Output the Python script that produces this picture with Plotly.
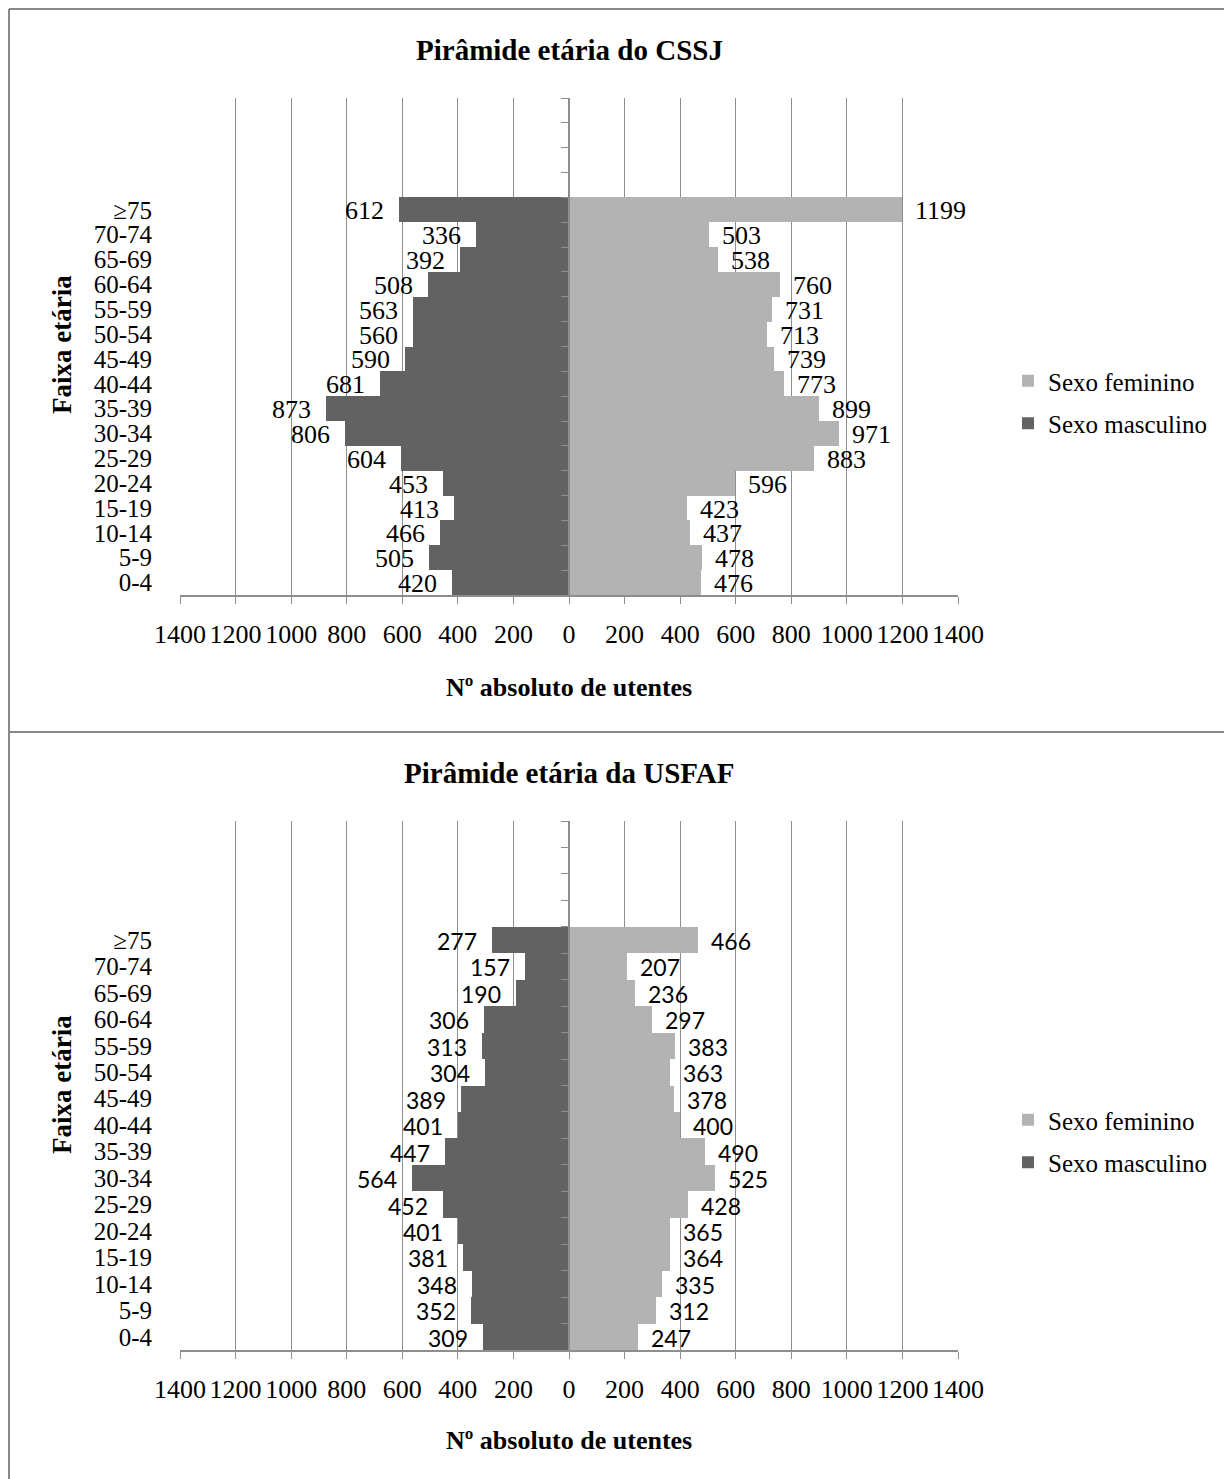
import plotly.graph_objects as go

age_groups = ["0-4", "5-9", "10-14", "15-19", "20-24", "25-29", "30-34", "35-39",
              "40-44", "45-49", "50-54", "55-59", "60-64", "65-69", "70-74", "≥75"]

cssj_male = [420, 505, 466, 413, 453, 604, 806, 873, 681, 590, 560, 563, 508, 392, 336, 612]
cssj_female = [476, 478, 437, 423, 596, 883, 971, 899, 773, 739, 713, 731, 760, 538, 503, 1199]

usfaf_male = [309, 352, 348, 381, 401, 452, 564, 447, 401, 389, 304, 313, 306, 190, 157, 277]
usfaf_female = [247, 312, 335, 364, 365, 428, 525, 490, 400, 378, 363, 383, 297, 236, 207, 466]

x_ticks = list(range(-1400, 1401, 200))
titles = ["Pirâmide etária do CSSJ", "Pirâmide etária da USFAF"]

W, H = 1232, 1479
OFF = 8  # page body margin
SERIF = "Liberation Serif, Times New Roman, serif"
SANS = "Lato, Open Sans, sans-serif"
MALE_C = "#626262"
FEM_C = "#b3b3b3"
GRID_C = "#8e8e8e"
FS = 25


def px(v):
    return (v - OFF) / W


def py(v):
    return 1 - (v - OFF) / H


x_dom = [px(180), px(958)]
x_mid = (x_dom[0] + x_dom[1]) / 2
panels = [
    dict(top=98, bot=595, title_y=50, xtitle_y=687, ytitle_y=345, legend_y=358,
         male=cssj_male, female=cssj_female, label_font=SERIF, label_size=26),
    dict(top=821, bot=1350, title_y=773, xtitle_y=1440, ytitle_y=1085, legend_y=1097,
         male=usfaf_male, female=usfaf_female, label_font=SANS, label_size=23),
]

n_slots = len(age_groups) + 4
y_range = [-0.5, n_slots - 0.5]
boundaries = [i - 0.5 for i in range(len(age_groups) + 5)]
idx = list(range(len(age_groups)))

fig = go.Figure()
layout = dict(
    width=W, height=H, margin=dict(l=0, r=0, t=0, b=0, autoexpand=False),
    paper_bgcolor="white", plot_bgcolor="white",
    barmode="overlay", bargap=0, showlegend=True,
    font=dict(family=SERIF, size=FS, color="black"),
)
annotations = []
shapes = []

for i, p in enumerate(panels):
    xa = "x" if i == 0 else "x2"
    ya = "y" if i == 0 else "y2"
    yc = "y3" if i == 0 else "y4"
    leg = "legend" if i == 0 else "legend2"
    fig.add_trace(go.Bar(
        y=idx, x=p["female"], orientation="h", name="Sexo feminino",
        marker=dict(color=FEM_C, line=dict(width=0)), width=1,
        xaxis=xa, yaxis=ya, legend=leg, legendgroup=f"f{i}", hoverinfo="x+y"))
    fig.add_trace(go.Bar(
        y=idx, x=[-v for v in p["male"]], orientation="h", name="Sexo masculino",
        marker=dict(color=MALE_C, line=dict(width=0)), width=1,
        xaxis=xa, yaxis=ya, legend=leg, legendgroup=f"m{i}", hoverinfo="x+y"))
    fig.add_trace(go.Scatter(x=[None], y=[None], xaxis=xa, yaxis=yc, showlegend=False,
                             hoverinfo="skip"))

    ydom = [py(p["bot"]), py(p["top"])]
    layout["xaxis" if i == 0 else "xaxis2"] = dict(
        domain=x_dom, anchor=ya, range=[-1400, 1400],
        tickvals=x_ticks, ticktext=[str(abs(v)) for v in x_ticks],
        ticks="outside", ticklen=7, tickcolor=GRID_C, tickwidth=1,
        showline=True, linecolor=GRID_C, linewidth=1.5,
        showgrid=True, gridcolor=GRID_C, gridwidth=1, zeroline=False,
        tickfont=dict(family=SERIF, size=26), ticklabelstandoff=8,
        automargin=False, fixedrange=True,
    )
    layout["yaxis" if i == 0 else "yaxis2"] = dict(
        domain=ydom, anchor=xa, range=y_range,
        tickvals=idx, ticktext=age_groups, ticks="", showline=False, showgrid=False,
        zeroline=False, tickfont=dict(family=SERIF, size=FS), ticklabelstandoff=27,
        automargin=False, fixedrange=True,
    )
    layout["yaxis3" if i == 0 else "yaxis4"] = dict(
        overlaying=ya, anchor="free", position=x_mid, side="left", range=y_range,
        tickvals=boundaries, ticks="outside", ticklen=7, tickcolor=GRID_C, tickwidth=1,
        showticklabels=False, showline=True, linecolor=GRID_C, linewidth=1.5,
        showgrid=False, zeroline=False, automargin=False, fixedrange=True,
    )
    layout[leg] = dict(
        x=px(1008), y=py(p["legend_y"]), xanchor="left", yanchor="top",
        font=dict(family=SERIF, size=FS), tracegroupgap=7, itemwidth=30,
        bgcolor="rgba(0,0,0,0)",
    )

    lf = dict(family=p["label_font"], size=p["label_size"])
    for k, v in enumerate(p["male"]):
        annotations.append(dict(x=-v, y=k, xref=xa, yref=ya, text=str(v), showarrow=False,
                                xanchor="right", yanchor="middle", xshift=-13, yshift=-1,
                                font=lf))
    for k, v in enumerate(p["female"]):
        annotations.append(dict(x=v, y=k, xref=xa, yref=ya, text=str(v), showarrow=False,
                                xanchor="left", yanchor="middle", xshift=11, yshift=-1,
                                font=lf))

    annotations.append(dict(x=x_mid, y=py(p["title_y"]), xref="paper", yref="paper",
                            xanchor="center", yanchor="middle",
                            text=f"<b>{titles[i]}</b>", showarrow=False,
                            font=dict(family=SERIF, size=29)))
    annotations.append(dict(x=x_mid, y=py(p["xtitle_y"]), xref="paper", yref="paper",
                            xanchor="center", yanchor="middle",
                            text="<b>Nº absoluto de utentes</b>", showarrow=False,
                            font=dict(family=SERIF, size=26)))
    annotations.append(dict(x=px(62), y=py(p["ytitle_y"]), xref="paper", yref="paper",
                            xanchor="center", yanchor="middle",
                            text="<b>Faixa etária</b>", showarrow=False, textangle=-90,
                            font=dict(family=SERIF, size=27)))

frame = dict(type="line", xref="paper", yref="paper", line=dict(color="#888888", width=2))
shapes.append({**frame, "x0": px(9), "x1": px(9), "y0": 0, "y1": py(9)})
shapes.append({**frame, "x0": px(9), "x1": 1, "y0": py(9), "y1": py(9)})
shapes.append({**frame, "x0": px(9), "x1": 1, "y0": py(732), "y1": py(732)})

layout["annotations"] = annotations
layout["shapes"] = shapes
fig.update_layout(**layout)
fig.write_html("out.html")
